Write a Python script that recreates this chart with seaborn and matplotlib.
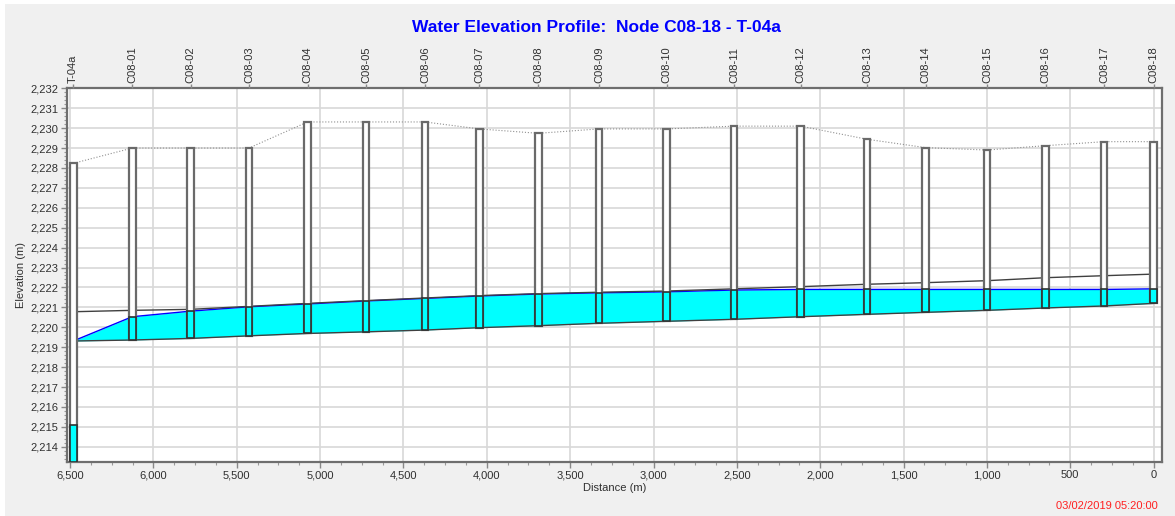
import numpy as np
import pandas as pd
import seaborn as sns
import matplotlib
matplotlib.use("Agg")
import matplotlib.pyplot as plt
from matplotlib.patches import Rectangle
from matplotlib.ticker import MultipleLocator, FuncFormatter

# node data (distance from C08-18, m)
nodes = ['T-04a', 'C08-01', 'C08-02', 'C08-03', 'C08-04', 'C08-05', 'C08-06', 'C08-07',
         'C08-08', 'C08-09', 'C08-10', 'C08-11', 'C08-12', 'C08-13', 'C08-14', 'C08-15',
         'C08-16', 'C08-17', 'C08-18']
dist = [6481, 6127, 5777, 5427, 5075, 4725, 4371, 4045, 3691, 3327, 2921, 2517, 2117,
        1719, 1367, 999, 647, 297, 0]
node_top = [2228.23, 2229.0, 2229.0, 2229.0, 2230.31, 2230.31, 2230.31, 2229.96, 2229.74,
            2229.96, 2229.96, 2230.1, 2230.1, 2229.44, 2229.02, 2228.9, 2229.12, 2229.32, 2229.32]
node_invert = [2213.25, 2219.36, 2219.44, 2219.57, 2219.69, 2219.77, 2219.86, 2219.98, 2220.08,
               2220.2, 2220.3, 2220.4, 2220.53, 2220.65, 2220.75, 2220.85, 2220.97, 2221.07, 2221.2]
node_water = [2215.08, 2220.53, 2220.81, 2221.03, 2221.17, 2221.32, 2221.45, 2221.57, 2221.67,
              2221.73, 2221.78, 2221.87, 2221.9, 2221.9, 2221.9, 2221.9, 2221.9, 2221.9, 2221.93]

# conduit lines at each node (first point = conduit end at T-04a)
link_invert = [2219.31, 2219.36, 2219.44, 2219.57, 2219.69, 2219.77, 2219.86, 2219.98, 2220.08,
               2220.2, 2220.3, 2220.4, 2220.53, 2220.65, 2220.75, 2220.85, 2220.97, 2221.07, 2221.2]
link_crown = [2220.78, 2220.85, 2220.9, 2221.05, 2221.2, 2221.34, 2221.47, 2221.59, 2221.69,
              2221.76, 2221.82, 2221.93, 2222.04, 2222.16, 2222.24, 2222.34, 2222.49, 2222.59, 2222.67]
link_water = [2219.31, 2220.53, 2220.81, 2221.03, 2221.17, 2221.32, 2221.45, 2221.57, 2221.67,
              2221.73, 2221.78, 2221.87, 2221.9, 2221.9, 2221.9, 2221.9, 2221.9, 2221.9, 2221.93]

df = pd.DataFrame({'dist': dist, 'top': node_top, 'inv': node_invert, 'wl': node_water,
                   'l_inv': link_invert, 'l_crown': link_crown, 'l_wl': link_water})

sns.set_style("white")
plt.rcParams['font.family'] = ['Liberation Sans', 'DejaVu Sans']

W, H = 1175, 516
fig = plt.figure(figsize=(W / 100, H / 100), dpi=100, facecolor='white')
fig.patches.append(Rectangle((5 / W, 0), 1, (H - 4) / H, transform=fig.transFigure,
                             facecolor='#f0f0f0', edgecolor='none', zorder=-10))
ax = fig.add_axes([66.7 / W, 1 - 461.7 / H, (1162.3 - 66.7) / W, (461.7 - 88.3) / H])
ax.set_facecolor('white')

# water in conduits
ax.fill_between(df['dist'], df['l_inv'], df['l_wl'], color='#00ffff', lw=0, zorder=2)
sns.lineplot(data=df, x='dist', y='l_inv', ax=ax, color='#404040', lw=1, estimator=None, zorder=3)
sns.lineplot(data=df, x='dist', y='l_wl', ax=ax, color='#0000ff', lw=1, estimator=None, zorder=3)
sns.lineplot(data=df, x='dist', y='l_crown', ax=ax, color='#404040', lw=1, estimator=None, zorder=3)
# ground line
sns.lineplot(data=df, x='dist', y='top', ax=ax, color='#909090', lw=0.8, ls=':', estimator=None, zorder=3)

# nodes
nw = 40
ax.bar(df['dist'], df['top'] - df['inv'], bottom=df['inv'], width=nw, facecolor='white',
       edgecolor='#6a6a6a', lw=1.6, zorder=4)
ax.bar(df['dist'], df['wl'] - df['inv'], bottom=df['inv'], width=nw, facecolor='#00ffff',
       edgecolor='#303030', lw=1.2, zorder=5)

ax.set_xlim(6520, -52)
ax.set_ylim(2213.25, 2232.0)
ax.xaxis.set_major_locator(MultipleLocator(500))
ax.xaxis.set_minor_locator(MultipleLocator(125))
ax.yaxis.set_major_locator(MultipleLocator(1))
ax.yaxis.set_minor_locator(MultipleLocator(0.2))
fmt = FuncFormatter(lambda v, p: f"{v:,.0f}")
ax.xaxis.set_major_formatter(fmt)
ax.yaxis.set_major_formatter(fmt)
ax.grid(True, which='major', color='#d8d8d8', lw=1.2, zorder=0)
ax.set_axisbelow(True)
ax.tick_params(axis='both', which='major', direction='out', length=4, width=1,
               color='#888888', labelsize=8, labelcolor='#303030', pad=2)
ax.tick_params(axis='both', which='minor', direction='out', length=2, width=0.8, color='#999999')
ax.tick_params(axis='x', bottom=True, which='both')
ax.tick_params(axis='y', left=True, which='both')
for s in ax.spines.values():
    s.set_color('#6e6e6e')
    s.set_linewidth(1.6)
ax.set_xlabel('Distance (m)', fontsize=8, color='#303030', labelpad=2)
ax.set_ylabel('Elevation (m)', fontsize=8, color='#303030', labelpad=3)

# node names on top
ax2 = ax.twiny()
ax2.set_xlim(ax.get_xlim())
ax2.set_xticks(dist)
ax2.set_xticklabels(nodes, rotation=90, fontsize=8, color='#303030')
ax2.tick_params(axis='x', direction='out', length=3, width=1, color='#888888', pad=1)
for s in ax2.spines.values():
    s.set_visible(False)

fig.text(596 / W, 1 - 28 / H, 'Water Elevation Profile:  Node C08-18 - T-04a', color='#0000ff',
         fontsize=12.5, fontweight='bold', ha='center', va='center')
fig.text(1158 / W, 1 - 506 / H, '03/02/2019 05:20:00', color='#ff2020', fontsize=8,
         ha='right', va='center')

fig.savefig('out.png', dpi=100, facecolor=fig.get_facecolor())
